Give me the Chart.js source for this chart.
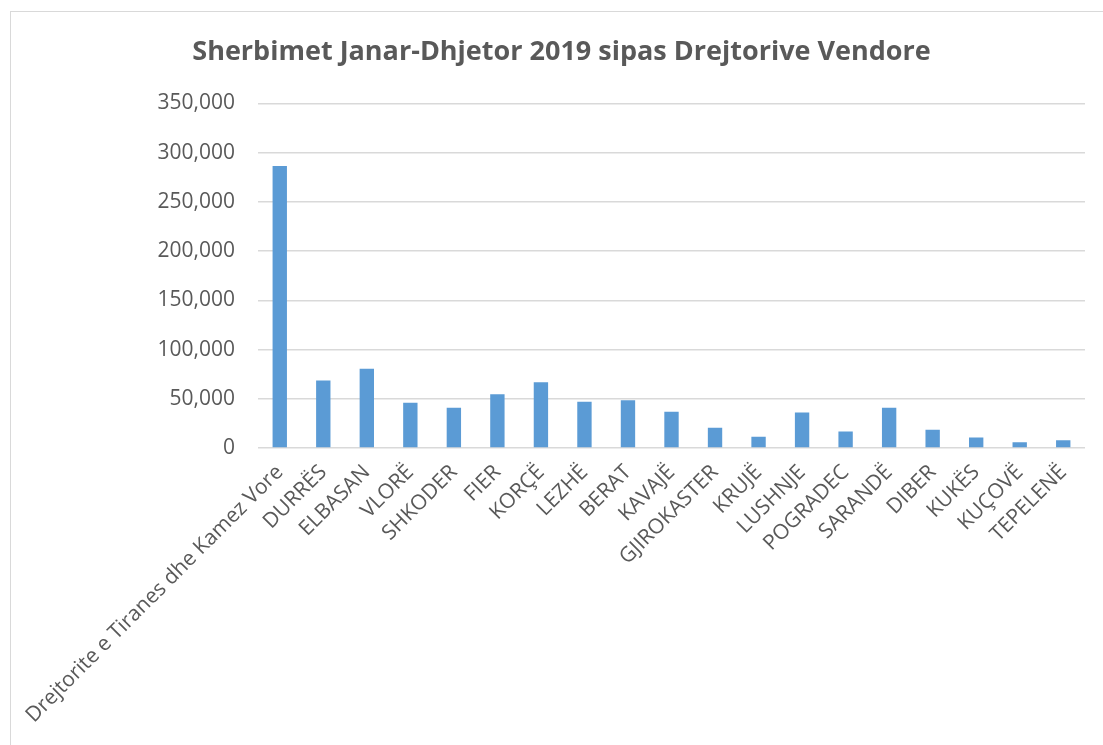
<!DOCTYPE html>
<html lang="sq">
<head>
    <meta charset="UTF-8">
    <title>Sherbimet Janar-Dhjetor 2019</title>
    <script src="https://cdn.jsdelivr.net/npm/chart.js"></script>
    <style>
        html, body {
            margin: 0;
            padding: 0;
            background: #ffffff;
            overflow: hidden;
            width: 1103px;
            height: 745px;
        }
        .frame {
            position: absolute;
            left: 10px;
            top: 11px;
            width: 1120px;
            height: 760px;
            border: 1px solid #d9d9d9;
        }
        #chart {
            position: absolute;
            left: 10px;
            top: 0;
        }
    </style>
</head>
<body>
    <div class="frame"></div>
    <canvas id="chart" width="1103" height="745"></canvas>

    <script>
        // Datos
        const categories = [
            'Drejtorite e Tiranes dhe Kamez Vore', 'DURRËS', 'ELBASAN', 'VLORË', 'SHKODER',
            'FIER', 'KORÇË', 'LEZHË', 'BERAT', 'KAVAJË', 'GJIROKASTER', 'KRUJË', 'LUSHNJE',
            'POGRADEC', 'SARANDË', 'DIBER', 'KUKËS', 'KUÇOVË', 'TEPELENË'
        ];
        const sherbimet = [
            286500, 68600, 80500, 45900, 40900,
            54700, 66900, 46900, 48600, 36800, 20500, 11400, 36100,
            16800, 40900, 18500, 10700, 5900, 7900
        ];
        const yMin = 0, yMax = 350000, yStep = 50000;
        const chartTitle = 'Sherbimet Janar-Dhjetor 2019 sipas Drejtorive Vendore';

        const textColor = '#595959';
        const gridColor = '#d9d9d9';

        const ctx = document.getElementById('chart').getContext('2d');
        new Chart(ctx, {
            type: 'bar',
            data: {
                labels: categories,
                datasets: [{
                    label: 'Sherbimet',
                    data: sherbimet,
                    backgroundColor: '#5b9bd5',
                    borderWidth: 0,
                    categoryPercentage: 1,
                    barPercentage: 0.33
                }]
            },
            options: {
                responsive: false,
                animation: false,
                layout: {
                    // padding simétrico para centrar el título
                    padding: { left: 28, right: 28, top: 0, bottom: 0 }
                },
                plugins: {
                    legend: { display: false },
                    tooltip: { enabled: false },
                    title: {
                        display: true,
                        text: chartTitle,
                        color: textColor,
                        font: { family: 'Open Sans', size: 27, weight: 'bold' },
                        padding: { top: 36, bottom: 35 }
                    }
                },
                scales: {
                    x: {
                        grid: { display: false },
                        border: { display: false },
                        ticks: {
                            color: textColor,
                            font: { family: 'Open Sans', size: 21 },
                            minRotation: 45,
                            maxRotation: 45,
                            autoSkip: false,
                            padding: 4
                        },
                        afterFit: (scale) => { scale.height = 297; }
                    },
                    y: {
                        min: yMin,
                        max: yMax,
                        grid: { color: gridColor, lineWidth: 1.5, drawTicks: false },
                        border: { display: false },
                        ticks: {
                            stepSize: yStep,
                            color: textColor,
                            font: { family: 'Open Sans', size: 21 },
                            padding: 23,
                            callback: (v) => v.toLocaleString('en-US')
                        },
                        afterFit: (scale) => { scale.width = 220; }
                    }
                }
            }
        });
    </script>
</body>
</html>
